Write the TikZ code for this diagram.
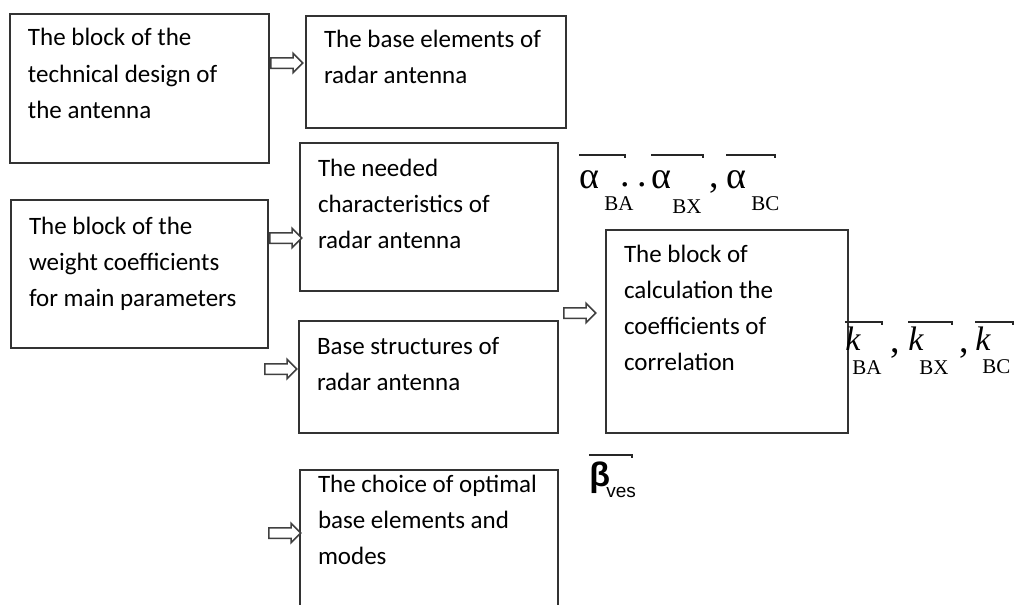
\documentclass[tikz,border=0pt]{standalone}
\usepackage{fontspec}
\setmainfont{Carlito}
\newfontfamily\tmsfont{Liberation Serif}
\newfontfamily\arlfont{Liberation Sans}
\usetikzlibrary{shapes.arrows}

% width, height, first baseline (all in px), text
\newcommand{\blocktext}[4]{\parbox[t][\dimexpr#2pt/2\relax][t]{\dimexpr#1pt/2\relax}{%
  \raggedright\leftskip=9pt\baselineskip=18pt\rule{0pt}{\dimexpr#3pt/2\relax}#4}}

\tikzset{
  blockbox/.style={draw=black!80,line width=1pt,anchor=north west,inner sep=0pt,
    font=\fontsize{12.5}{18}\selectfont},
  hollowarr/.style={single arrow,draw=black!75,line width=0.75pt,fill=white,
    minimum height=16pt,inner xsep=0pt,inner ysep=2.25pt,
    single arrow head extend=2.25pt,anchor=tail},
  greeksym/.style={font=\tmsfont\fontsize{19}{19}\selectfont,inner sep=0pt,anchor=base west},
  ksym/.style={font=\tmsfont\itshape\fontsize{17}{17}\selectfont,inner sep=0pt,anchor=base west},
  subtext/.style={font=\tmsfont\fontsize{10.5}{10.5}\selectfont,inner sep=0pt,anchor=base west},
  vecbar/.style={line width=1pt,black!85}
}

\begin{document}
\begin{tikzpicture}[x=0.5pt,y=-0.5pt]
  \useasboundingbox (0,0) rectangle (1018,605);
  \clip (0,0) rectangle (1018,605);

  % blocks
  \node[blockbox] (techdesign) at (9,13)
    {\blocktext{259}{149}{32}{The block of the\\technical design of\\the antenna}};
  \node[blockbox] (baseelem) at (305,15)
    {\blocktext{260}{112}{31}{The base elements of\\radar antenna}};
  \node[blockbox] (needchar) at (299,142)
    {\blocktext{258}{148}{33}{The needed\\characteristics of\\radar antenna}};
  \node[blockbox] (weightcoef) at (10,199)
    {\blocktext{257}{148}{34}{The block of the\\weight coefficients\\for main parameters}};
  \node[blockbox] (basestruct) at (298,320)
    {\blocktext{259}{112}{33}{Base structures of\\radar antenna}};
  \node[blockbox] (calccorr) at (605,229)
    {\blocktext{242}{203}{32}{The block of\\calculation the\\coefficients of\\correlation}};
  \node[blockbox] (optchoice) at (299,469)
    {\blocktext{258}{170}{22}{The choice of optimal\\base elements and\\modes}};

  % hollow arrows
  \node[hollowarr] (arr1) at (techdesign.east |- 0,63) {};
  \node[hollowarr] (arr2) at (weightcoef.east |- 0,238) {};
  \node[hollowarr] (arr3) at (264,369) {};
  \node[hollowarr] (arr4) at (563,313) {};
  \node[hollowarr] (arr5) at (268,533) {};

  % alpha vectors
  \node[greeksym] (alpha1) at (579,188) {α};
  \node[subtext] (subBA1) at (604,210) {BA};
  \node[greeksym] (dots1) at (620,186) {.\hspace{4pt}.};
  \node[greeksym] (alpha2) at (651,188) {α};
  \node[subtext] (subBX1) at (672,213) {BX};
  \node[greeksym] (comma1) at (709,187) {,};
  \node[greeksym] (alpha3) at (726,188) {α};
  \node[subtext] (subBC1) at (751,210) {BC};
  \draw[vecbar] (alpha1.west |- 0,155) -- (625,155) -- ++(0,2.5);
  \draw[vecbar] (alpha2.west |- 0,155) -- (703,155) -- ++(0,2.5);
  \draw[vecbar] (alpha3.west |- 0,155) -- (775,155) -- ++(0,2.5);

  % k vectors
  \node[ksym] (kvec1) at (845,350) {k};
  \node[subtext] (subBA2) at (852,374) {BA};
  \node[greeksym] (comma2) at (890,352) {,};
  \node[ksym] (kvec2) at (908,350) {k};
  \node[subtext] (subBX2) at (919,374) {BX};
  \node[greeksym] (comma3) at (959,352) {,};
  \node[ksym] (kvec3) at (975,350) {k};
  \node[subtext] (subBC2) at (982,373) {BC};
  \draw[vecbar] (kvec1.west |- 0,322) -- (882,322) -- ++(0,2.5);
  \draw[vecbar] (kvec2.west |- 0,322) -- (952,322) -- ++(0,2.5);
  \draw[vecbar] (kvec3.west |- 0,322) -- (1013,322) -- ++(0,2.5);

  % beta
  \node[font=\arlfont\bfseries\fontsize{17}{17}\selectfont,inner sep=0pt,anchor=base west]
    (betaves) at (589,486) {β};
  \node[font=\arlfont\fontsize{9.5}{9.5}\selectfont,inner sep=0pt,anchor=base west]
    (subves) at (606,497) {ves};
  \draw[vecbar] (betaves.west |- 0,455) -- (632,455) -- ++(0,2.5);
\end{tikzpicture}
\end{document}
